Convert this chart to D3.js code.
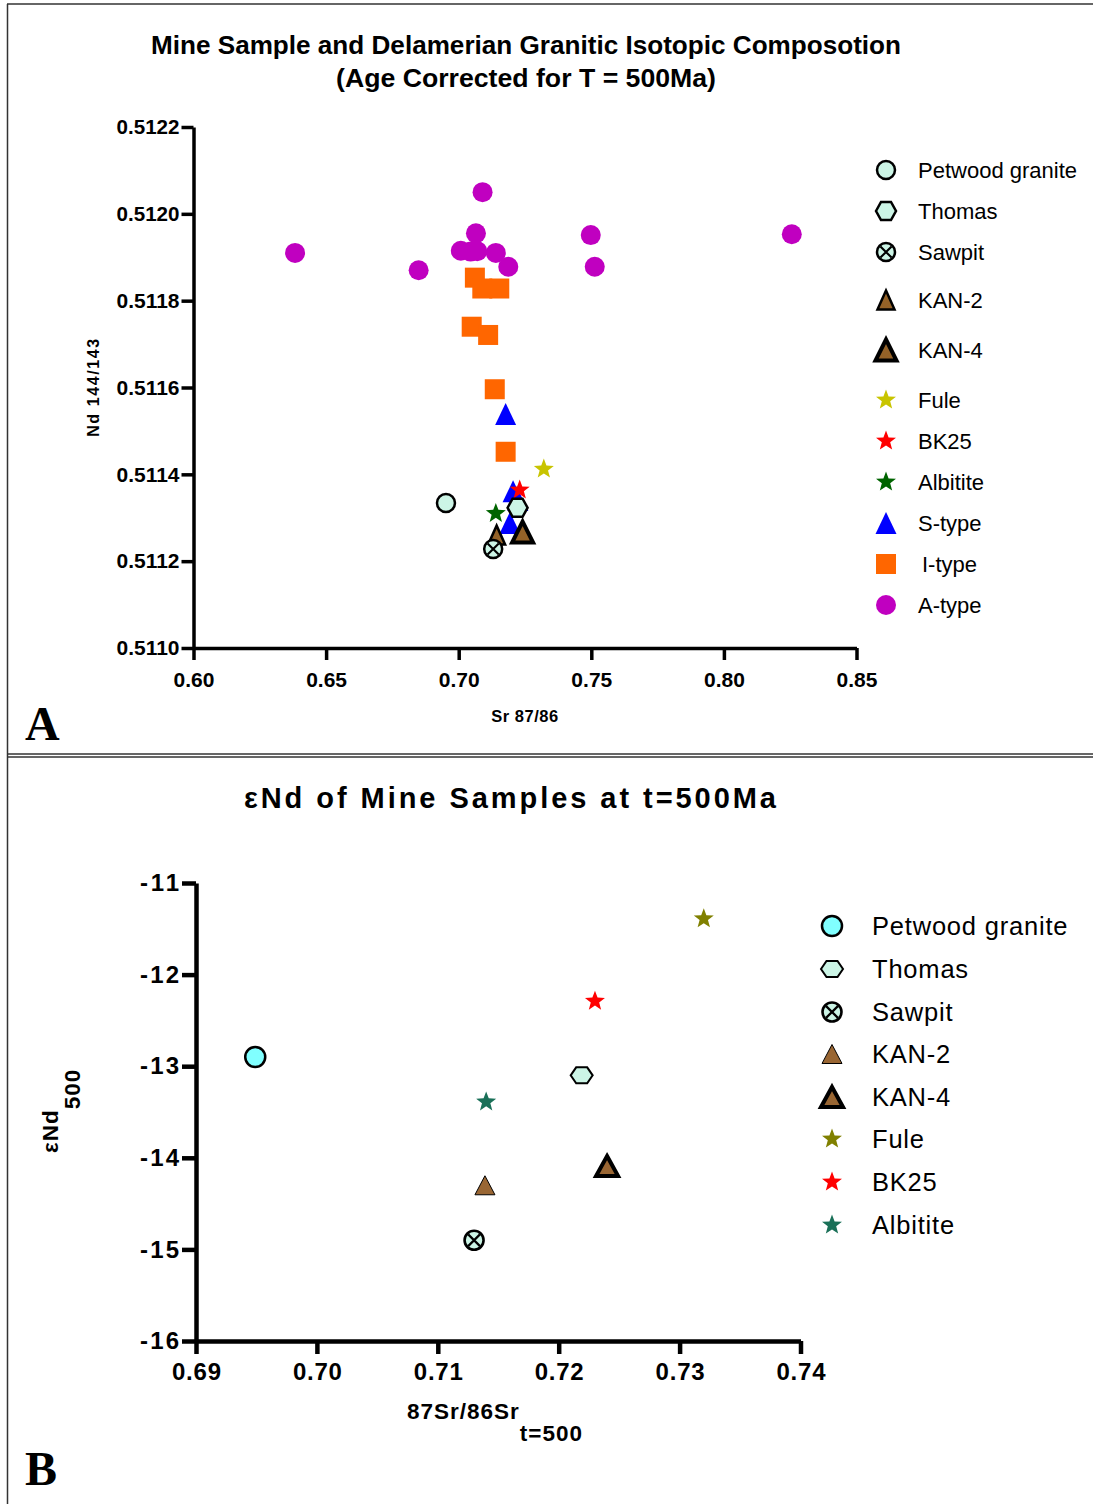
<!DOCTYPE html>
<html><head><meta charset="utf-8">
<script src="https://cdn.jsdelivr.net/npm/d3@7"></script>
<style>
html,body{margin:0;padding:0;background:#fff;}
svg{display:block;font-family:"Liberation Sans",Arial,sans-serif;}
</style></head>
<body>
<svg id="chart" width="1093" height="1504"></svg>
<script>
// ---------- DATA : panel A (Sr 87/86 vs Nd 144/143) ----------
const topXTicks = [0.60, 0.65, 0.70, 0.75, 0.80, 0.85];
const topYTicks = [0.5110, 0.5112, 0.5114, 0.5116, 0.5118, 0.5120, 0.5122];

const aTypeSr = [0.7090, 0.7065, 0.7008, 0.7045, 0.7070, 0.7140, 0.7187, 0.6849, 0.7498, 0.7513, 0.6383, 0.8256];
const aTypeNd = [0.51205, 0.511955, 0.511915, 0.511913, 0.511914, 0.51191, 0.511878, 0.51187, 0.511951, 0.511878, 0.51191, 0.511953];
const iTypeSr = [0.7061, 0.7089, 0.7153, 0.7049, 0.7111, 0.7136, 0.7177];
const iTypeNd = [0.511853, 0.511828, 0.511828, 0.51174, 0.511721, 0.511596, 0.511452];
const sTypeSr = [0.7177, 0.7205, 0.7223, 0.7193];
const sTypeNd = [0.511539, 0.511361, 0.511341, 0.511288];
const topFule = [0.7321, 0.511412];
const topBK25 = [0.7230, 0.511364];
const topAlbitite = [0.7140, 0.51131];
const topPetwood = [0.6952, 0.511334];
const topThomas = [0.7222, 0.511323];
const topSawpit = [0.7130, 0.511228];
const topKAN2 = [0.7143, 0.51126];
const topKAN4 = [0.7241, 0.511267];

const topLegendLabels = ["Petwood granite","Thomas","Sawpit","KAN-2","KAN-4","Fule","BK25","Albitite","S-type","I-type","A-type"];

// ---------- DATA : panel B (87Sr/86Sr t=500 vs εNd500) ----------
const botXTicks = [0.69, 0.70, 0.71, 0.72, 0.73, 0.74];
const botYTicks = [-16, -15, -14, -13, -12, -11];
const botSeriesNames = ["Petwood granite","Thomas","Sawpit","KAN-2","KAN-4","Fule","BK25","Albitite"];
const botSr = [0.6949, 0.7219, 0.7130, 0.7139, 0.7240, 0.7320, 0.7230, 0.7140];
const botEps = [-12.90, -13.10, -14.90, -14.30, -14.09, -11.39, -12.29, -13.39];

// ---------- helpers ----------
const svg = d3.select("#chart");

function starPath(R){
  const r = R*0.42, pts=[];
  for(let i=0;i<10;i++){
    const a = -Math.PI/2 + i*Math.PI/5;
    const rr = i%2===0?R:r;
    pts.push([rr*Math.cos(a), rr*Math.sin(a)]);
  }
  return "M"+pts.map(p=>p[0].toFixed(2)+","+p[1].toFixed(2)).join("L")+"Z";
}
function triPath(w,h){ return `M0,${-h/2}L${w/2},${h/2}L${-w/2},${h/2}Z`; }
function hexPath(w,h){ const q=w/4; return `M${-w/2},0L${-q},${-h/2}L${q},${-h/2}L${w/2},0L${q},${h/2}L${-q},${h/2}Z`; }

function drawSym(g, s, x, y){
  const t = g.append("g").attr("transform",`translate(${x},${y})`);
  const st = sel => sel.attr("fill",s.fill).attr("stroke",s.stroke||"none").attr("stroke-width",s.sw||0).attr("stroke-linejoin","miter");
  if(s.type==="circle") st(t.append("circle").attr("r",s.r));
  else if(s.type==="square") st(t.append("rect").attr("x",-s.r).attr("y",-s.r).attr("width",2*s.r).attr("height",2*s.r));
  else if(s.type==="tri") st(t.append("path").attr("d",triPath(s.w,s.h)));
  else if(s.type==="hex") st(t.append("path").attr("d",hexPath(s.w,s.h)));
  else if(s.type==="star") st(t.append("path").attr("d",starPath(s.r)));
  else if(s.type==="xcircle"){
    st(t.append("circle").attr("r",s.r));
    const d = s.r*0.62;
    t.append("path").attr("d",`M${-d},${-d}L${d},${d}M${-d},${d}L${d},${-d}`).attr("stroke",s.stroke).attr("stroke-width",s.sw*0.85);
  }
}

// ---------- frame ----------
const frame = svg.append("g").attr("stroke","#333").attr("fill","none");
frame.append("line").attr("x1",7).attr("x2",1093).attr("y1",4).attr("y2",4).attr("stroke-width",1.5);
frame.append("line").attr("x1",7.5).attr("x2",7.5).attr("y1",4).attr("y2",1504).attr("stroke-width",1.5);
frame.append("line").attr("x1",7).attr("x2",1093).attr("y1",754).attr("y2",754).attr("stroke-width",1.6);
frame.append("line").attr("x1",7).attr("x2",1093).attr("y1",757).attr("y2",757).attr("stroke-width",1.6);

svg.append("text").attr("x",25).attr("y",740).attr("font-family","'Liberation Serif','Times New Roman',serif")
  .attr("font-weight","bold").attr("font-size",48).text("A");
svg.append("text").attr("x",25).attr("y",1485).attr("font-family","'Liberation Serif','Times New Roman',serif")
  .attr("font-weight","bold").attr("font-size",48).text("B");

// =============== PANEL A ===============
const tx = d3.scaleLinear().domain([0.60,0.85]).range([193.5,856.5]);
const ty = d3.scaleLinear().domain([0.5110,0.5122]).range([648,127]);

svg.append("text").attr("x",526).attr("y",54).attr("text-anchor","middle").attr("font-weight","bold")
  .attr("font-size",26).attr("textLength",750).attr("lengthAdjust","spacingAndGlyphs")
  .text("Mine Sample and Delamerian Granitic Isotopic Composotion");
svg.append("text").attr("x",526).attr("y",87).attr("text-anchor","middle").attr("font-weight","bold")
  .attr("font-size",26).attr("textLength",380).attr("lengthAdjust","spacingAndGlyphs")
  .text("(Age Corrected for T = 500Ma)");

const axA = svg.append("g");
const gxA = axA.append("g").attr("transform","translate(0,648)")
  .call(d3.axisBottom(tx).tickValues(topXTicks).tickFormat(d3.format(".2f")).tickSize(12).tickSizeOuter(0).tickPadding(12));
const gyA = axA.append("g").attr("transform","translate(193.5,0)")
  .call(d3.axisLeft(ty).tickValues(topYTicks).tickFormat(d3.format(".4f")).tickSize(12).tickSizeOuter(0).tickPadding(2));
[gxA,gyA].forEach(g=>{
  g.select(".domain").attr("stroke","#000").attr("stroke-width",3.5);
  g.selectAll(".tick line").attr("stroke","#000").attr("stroke-width",3.5);
  g.selectAll(".tick text").attr("fill","#000").attr("font-size",21).attr("font-weight","bold")
    .attr("font-family","'Liberation Sans',Arial,sans-serif");
});
gyA.selectAll(".tick text").attr("textLength",63).attr("lengthAdjust","spacingAndGlyphs");

svg.append("text").attr("transform","translate(99,387) rotate(-90)").attr("text-anchor","middle")
  .attr("font-weight","bold").attr("font-size",16).attr("letter-spacing",1.6).text("Nd 144/143");
svg.append("text").attr("x",525).attr("y",722).attr("text-anchor","middle")
  .attr("font-weight","bold").attr("font-size",16.5).attr("letter-spacing",0.5).text("Sr 87/86");

const topStyles = {
  "Petwood granite":{type:"circle",r:9,fill:"#CCF5E6",stroke:"#000",sw:2.5},
  "Thomas":{type:"hex",w:20,h:18,fill:"#CCF5E6",stroke:"#000",sw:2.5},
  "Sawpit":{type:"xcircle",r:9,fill:"#CCF5E6",stroke:"#000",sw:2.5},
  "KAN-2":{type:"tri",w:17,h:19,fill:"#946228",stroke:"#000",sw:2.5},
  "KAN-4":{type:"tri",w:21,h:21,fill:"#946228",stroke:"#000",sw:4},
  "Fule":{type:"star",r:10.5,fill:"#C8C400"},
  "BK25":{type:"star",r:10.5,fill:"#FF0000"},
  "Albitite":{type:"star",r:10.5,fill:"#006400"},
  "S-type":{type:"tri",w:21,h:22,fill:"#0000FF"},
  "I-type":{type:"square",r:10,fill:"#FF6600"},
  "A-type":{type:"circle",r:10,fill:"#C000C0"}
};

const ptsA = svg.append("g");
aTypeSr.forEach((v,i)=>drawSym(ptsA, topStyles["A-type"], tx(v), ty(aTypeNd[i])));
iTypeSr.forEach((v,i)=>drawSym(ptsA, topStyles["I-type"], tx(v), ty(iTypeNd[i])));
sTypeSr.forEach((v,i)=>drawSym(ptsA, topStyles["S-type"], tx(v), ty(sTypeNd[i])));
[["Fule",topFule],["BK25",topBK25],["Albitite",topAlbitite],["KAN-2",topKAN2],["KAN-4",topKAN4],
 ["Petwood granite",topPetwood],["Thomas",topThomas],["Sawpit",topSawpit]]
 .forEach(([n,p])=>drawSym(ptsA, topStyles[n], tx(p[0]), ty(p[1])));

// legend A
const legAY = [170,211,252,300,350,400,441,482,523,564,605];
const legA = svg.append("g");
topLegendLabels.forEach((lab,i)=>{
  drawSym(legA, topStyles[lab], 886, legAY[i]);
  legA.append("text").attr("x", lab==="I-type"?922:918).attr("y",legAY[i]).attr("dy","0.36em")
    .attr("font-size",22).attr("fill","#000").text(lab);
});

// =============== PANEL B ===============
const bx = d3.scaleLinear().domain([0.69,0.74]).range([196,800.5]);
const by = d3.scaleLinear().domain([-16,-11]).range([1341,883]);

svg.append("text").attr("x",510).attr("y",808).attr("text-anchor","middle").attr("font-weight","bold")
  .attr("font-size",29).attr("textLength",532).attr("lengthAdjust","spacing")
  .text("εNd of Mine Samples at t=500Ma");

const gxB = svg.append("g").attr("transform","translate(0,1341)")
  .call(d3.axisBottom(bx).tickValues(botXTicks).tickFormat(d3.format(".2f")).tickSize(13).tickSizeOuter(0).tickPadding(9));
const gyB = svg.append("g").attr("transform","translate(196,0)")
  .call(d3.axisLeft(by).tickValues(botYTicks).tickFormat(d=>String(d)).tickSize(14).tickSizeOuter(0).tickPadding(3));
[gxB,gyB].forEach(g=>{
  g.select(".domain").attr("stroke","#000").attr("stroke-width",4.5);
  g.selectAll(".tick line").attr("stroke","#000").attr("stroke-width",4.5);
  g.selectAll(".tick text").attr("fill","#000").attr("font-size",24).attr("font-weight","bold")
    .attr("font-family","'Liberation Sans',Arial,sans-serif");
});
gxB.selectAll(".tick text").attr("textLength",49).attr("lengthAdjust","spacing");
gyB.selectAll(".tick text").attr("textLength",39).attr("lengthAdjust","spacing");

const xlab = svg.append("text").attr("x",407).attr("y",1419).attr("font-weight","bold")
  .attr("font-size",22.5).attr("letter-spacing",1);
xlab.append("tspan").text("87Sr/86Sr");
xlab.append("tspan").attr("dy",22).text("t=500");

const ylab = svg.append("text").attr("transform","translate(58,1153) rotate(-90)").attr("font-weight","bold")
  .attr("font-size",22.5).attr("letter-spacing",1);
ylab.append("tspan").text("εNd");
ylab.append("tspan").attr("dy",22).text("500");

const botStyles = {
  "Petwood granite":{type:"circle",r:10,fill:"#80FFFF",stroke:"#000",sw:2.5},
  "Thomas":{type:"hex",w:22,h:16,fill:"#CCF5E6",stroke:"#000",sw:2},
  "Sawpit":{type:"xcircle",r:9.5,fill:"#CCF5E6",stroke:"#000",sw:2.6},
  "KAN-2":{type:"tri",w:20,h:19,fill:"#996633",stroke:"#000",sw:1},
  "KAN-4":{type:"tri",w:22,h:20,fill:"#996633",stroke:"#000",sw:4},
  "Fule":{type:"star",r:10.5,fill:"#808000"},
  "BK25":{type:"star",r:10.5,fill:"#FF0000"},
  "Albitite":{type:"star",r:10.5,fill:"#1A7058"}
};

const ptsB = svg.append("g");
botSeriesNames.forEach((n,i)=>drawSym(ptsB, botStyles[n], bx(botSr[i]), by(botEps[i])));

const legBY = [926,969,1012,1054,1097,1139,1182,1225];
const legB = svg.append("g");
botSeriesNames.forEach((lab,i)=>{
  drawSym(legB, botStyles[lab], 832, legBY[i]);
  legB.append("text").attr("x",872).attr("y",legBY[i]).attr("dy","0.36em")
    .attr("font-size",25.5).attr("letter-spacing",0.8).attr("fill","#000").text(lab);
});
</script>
</body></html>
